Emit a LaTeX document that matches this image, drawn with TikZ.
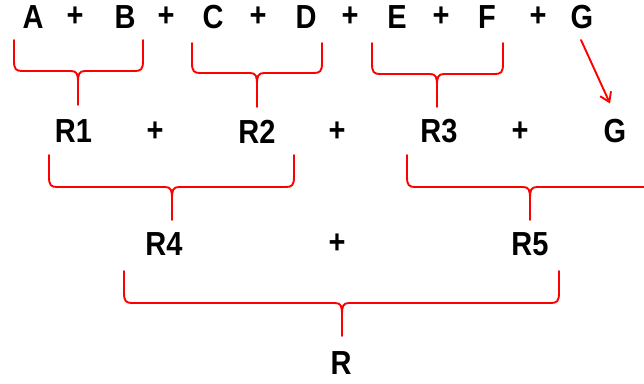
\documentclass[tikz,border=0pt]{standalone}
\usepackage{fontspec}
\usepackage{graphicx}
\setmainfont{Liberation Sans}
\usetikzlibrary{arrows.meta}
\newcommand\tallt[1]{\scalebox{1}[1.15]{#1}}
\tikzset{
  lbl/.style={inner sep=0pt, font=\fontsize{29}{29}\selectfont\bfseries},
  bracepath/.style={draw=red, line width=1.9pt, line cap=round, line join=round},
  redarrow/.style={draw=red, line width=1.9pt, line cap=round, -{Straight Barb[length=9pt,width=12pt,line width=1.9pt]}}
}
% left x, right x, tip x, top y, horizontal y, bottom y
\newcommand\mybrace[6]{%
  \draw[bracepath] (#1,#4) -- (#1,#5-10) .. controls (#1,#5-2) and (#1+2,#5) .. (#1+8,#5)
    -- (#3-7,#5) .. controls (#3-1,#5) and (#3,#5+3) .. (#3,#5+12) -- (#3,#6);
  \draw[bracepath] (#2,#4) -- (#2,#5-10) .. controls (#2,#5-2) and (#2-2,#5) .. (#2-8,#5)
    -- (#3+7,#5) .. controls (#3+1,#5) and (#3,#5+3) .. (#3,#5+12);
}
\begin{document}
\begin{tikzpicture}[x=1pt,y=-1pt]
\clip (0,0) rectangle (644,383);
\fill[white] (0,0) rectangle (644,383);
% row 1
\node[lbl] (a) at (33,17) {\tallt{A}};
\node[lbl] (pab) at (75,17) {\tallt{+}};
\node[lbl] (b) at (125,17) {\tallt{B}};
\node[lbl] (pbc) at (166,17) {\tallt{+}};
\node[lbl] (c) at (213,17) {\tallt{C}};
\node[lbl] (pcd) at (258,17) {\tallt{+}};
\node[lbl] (d) at (306,17) {\tallt{D}};
\node[lbl] (pde) at (350,17) {\tallt{+}};
\node[lbl] (e) at (397,17) {\tallt{E}};
\node[lbl] (pef) at (441,17) {\tallt{+}};
\node[lbl] (f) at (487,17) {\tallt{F}};
\node[lbl] (pfg) at (538,17) {\tallt{+}};
\node[lbl] (g1) at (582,17) {\tallt{G}};
% row 2
\node[lbl] (r1) at (73.5,131.5) {\tallt{R1}};
\node[lbl] (p12) at (155,131.5) {\tallt{+}};
\node[lbl] (r2) at (257,131.5) {\tallt{R2}};
\node[lbl] (p23) at (337,131.5) {\tallt{+}};
\node[lbl] (r3) at (439,131.5) {\tallt{R3}};
\node[lbl] (p3g) at (520,131.5) {\tallt{+}};
\node[lbl] (g2) at (615,131.5) {\tallt{G}};
% row 3
\node[lbl] (r4) at (164,244) {\tallt{R4}};
\node[lbl] (p45) at (337,244) {\tallt{+}};
\node[lbl] (r5) at (530,244) {\tallt{R5}};
% row 4
\node[lbl] (r) at (341,363) {\tallt{R}};
% braces
\mybrace{14}{143}{78}{40}{71}{105}
\mybrace{192}{322}{257}{43}{73}{107}
\mybrace{372}{503}{437}{43}{74}{107}
\mybrace{49}{294}{172}{155}{187}{220}
\mybrace{407}{653}{530}{155}{187}{220}
\mybrace{124}{559}{342}{271}{303}{336}
% arrow
\draw[redarrow] ([xshift=-1pt,yshift=-11pt]g1.south) -- ([xshift=-5pt,yshift=16pt]g2.north);
\end{tikzpicture}
\end{document}
